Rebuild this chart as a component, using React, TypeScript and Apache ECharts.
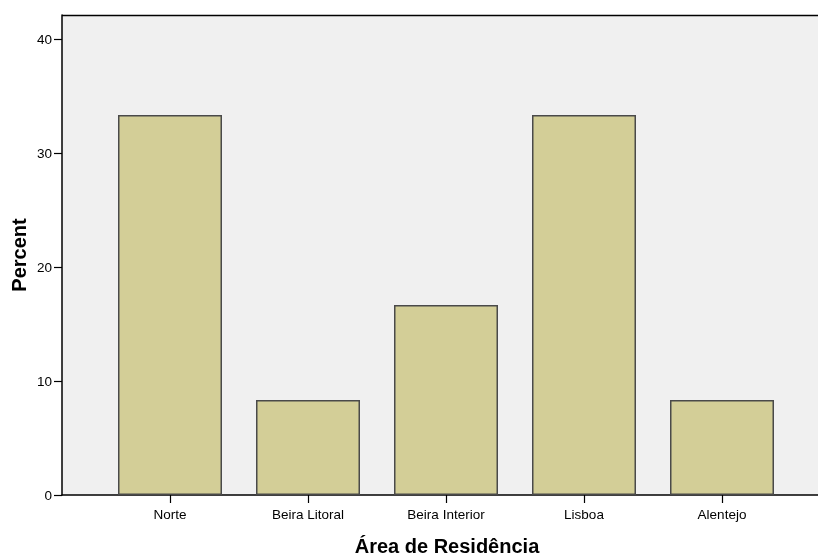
import React, { useEffect, useRef } from "react";
import * as echarts from "echarts";

const categories = ["Norte", "Beira Litoral", "Beira Interior", "Lisboa", "Alentejo"];
const percents = [33.33, 8.33, 16.67, 33.33, 8.33];
const yMin = 0;
const yMax = 40;
const yInterval = 10;

export default function App() {
  const ref = useRef<HTMLDivElement>(null);
  useEffect(() => {
    if (!ref.current) return;
    const chart = echarts.init(ref.current, undefined, { renderer: "svg" });
    const font = "'Liberation Sans', Arial, sans-serif";
    chart.setOption({
      animation: false,
      textStyle: { fontFamily: font },
      grid: [
        { left: 62, right: -14, top: 15, bottom: 63, show: true, backgroundColor: "#F0F0F0", borderWidth: 0, outerBoundsMode: "none", containLabel: false },
        { left: 101, right: 27, top: 39, bottom: 63, outerBoundsMode: "none", containLabel: false },
      ],
      xAxis: [
        {
          gridIndex: 0,
          type: "value",
          min: 0,
          max: 1,
          axisLine: { show: true, lineStyle: { color: "#000", width: 1.5 } },
          axisTick: { show: false },
          axisLabel: { show: false },
          splitLine: { show: false },
          name: "Área de Residência",
          nameLocation: "middle",
          nameGap: 41,
          nameTextStyle: { fontWeight: "bold", fontSize: 20, fontFamily: font, color: "#000" },
        },
        {
          gridIndex: 1,
          type: "category",
          data: categories,
          axisLine: { show: false },
          axisTick: { show: true, alignWithLabel: true, length: 8, lineStyle: { color: "#000", width: 1.2 } },
          axisLabel: { margin: 12, fontSize: 13.5, color: "#000", fontFamily: font },
        },
      ],
      yAxis: [
        {
          gridIndex: 0,
          type: "value",
          min: 0,
          max: 1,
          axisLine: { show: true, lineStyle: { color: "#000", width: 1.5 } },
          axisTick: { show: false },
          axisLabel: { show: false },
          splitLine: { show: false },
          name: "Percent",
          nameLocation: "middle",
          nameGap: 33,
          nameTextStyle: { fontWeight: "bold", fontSize: 20, fontFamily: font, color: "#000" },
        },
        {
          gridIndex: 1,
          type: "value",
          min: yMin,
          max: yMax,
          interval: yInterval,
          offset: 39,
          axisLine: { show: false },
          axisTick: { show: true, length: 8, lineStyle: { color: "#000", width: 1.2 } },
          axisLabel: { margin: 10, fontSize: 13.5, color: "#000", fontFamily: font },
          splitLine: { show: false },
        },
      ],
      graphic: [
        {
          type: "line",
          shape: { x1: 62, y1: 15.5, x2: 818, y2: 15.5 },
          style: { stroke: "#000", lineWidth: 1.5 },
        },
      ],
      series: [
        {
          type: "bar",
          xAxisIndex: 1,
          yAxisIndex: 1,
          data: percents,
          barWidth: 104,
          itemStyle: { color: "#D3CE97", borderColor: "#4a4a4a", borderWidth: 1.5 },
        },
      ],
    });
    return () => chart.dispose();
  }, []);
  return <div ref={ref} style={{ position: "fixed", left: 0, top: 0, width: 818, height: 558 }} />;
}
